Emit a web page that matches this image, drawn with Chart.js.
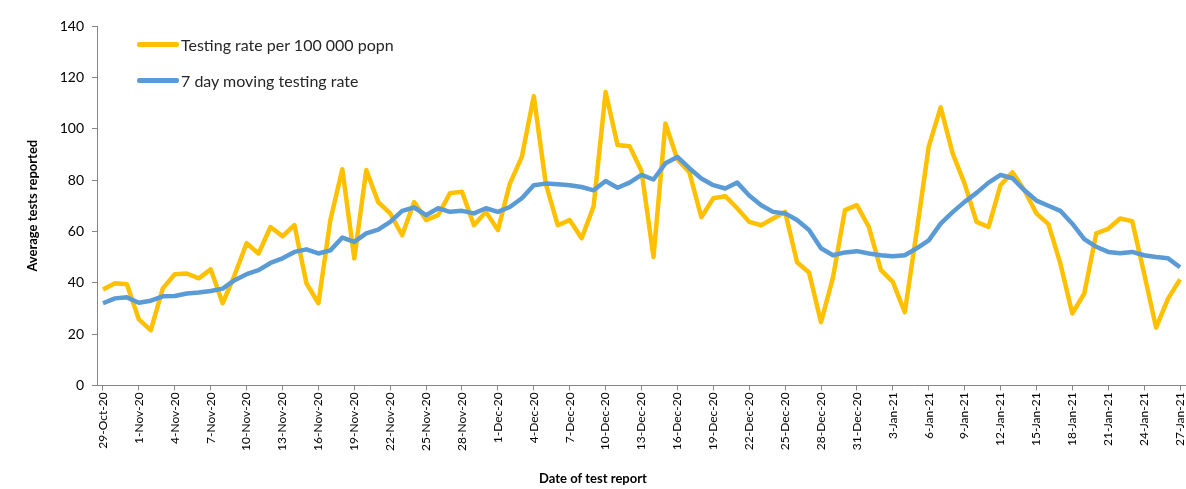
<!DOCTYPE html>
<html lang="en">
<head>
  <meta charset="UTF-8" />
  <title>Testing rate per 100 000 popn</title>
  <script src="https://cdn.jsdelivr.net/npm/chart.js"></script>
  <style>
    html, body { margin: 0; padding: 0; background: #fff; overflow: hidden; }
    #wrap { position: relative; width: 1186px; height: 489px; }
    #legend { position: absolute; left: 137px; top: 32px; font-family: Lato, sans-serif; font-size: 16px; color: #262626; }
    .legend-item { display: flex; align-items: center; height: 24px; margin-bottom: 12px; }
    .legend-line { width: 42px; height: 5px; border-radius: 2px; margin-right: 2px; }
  </style>
</head>
<body>
  <div id="wrap">
    <canvas id="testingChart"></canvas>
    <div id="legend"></div>
  </div>

  <script>
    // 29-Oct-20 .. 27-Jan-21, one value per day
    const startDate = new Date(2020, 9, 29);
    const dayCount = 91;
    const months = ['Jan', 'Feb', 'Mar', 'Apr', 'May', 'Jun', 'Jul', 'Aug', 'Sep', 'Oct', 'Nov', 'Dec'];
    const dateLabels = [];
    for (let i = 0; i < dayCount; i++) {
      const d = new Date(startDate.getFullYear(), startDate.getMonth(), startDate.getDate() + i);
      dateLabels.push(d.getDate() + '-' + months[d.getMonth()] + '-' + String(d.getFullYear()).slice(2));
    }

    const dailyRate = [
      37.4, 39.8, 39.4, 25.7, 21.5, 37.8, 43.3, 43.6, 41.7, 45.2, 32, 43, 55.4, 51.4, 61.7,
      58.1, 62.4, 39.8, 32, 64.4, 84.2, 49.5, 83.9, 71.4, 67, 58.5, 71.4, 64.4, 66.3, 74.9,
      75.4, 62.4, 67.6, 60.5, 78.6, 89, 112.7, 78.6, 62.4, 64.4, 57.3, 69.8, 114.3, 93.6, 93.2,
      83.5, 50, 102, 88, 83, 65.5, 72.9, 73.7, 69, 63.7, 62.4, 65, 67.6, 48, 44,
      24.6, 42, 68.3, 70.2, 61.7, 45, 40.3, 28.5, 60, 93, 108.3, 90.4, 78.6, 63.7, 61.7,
      78, 83, 76, 67, 62.8, 47.5, 28, 35.8, 59.2, 61, 65, 64, 43.6, 22.5, 33.8, 41.3
    ];

    const movingRate = [
      32, 33.9, 34.3, 32.2, 33, 34.7, 34.8, 35.8, 36.2, 36.8, 37.7, 41, 43.3, 44.9, 47.7,
      49.5, 52, 53, 51.4, 52.6, 57.6, 55.9, 59.2, 60.7, 63.7, 68, 69.3, 66.3, 69, 67.6,
      68, 67, 69, 67.6, 69.5, 72.9, 78, 78.6, 78.4, 78, 77.3, 76, 79.6, 77, 79,
      82, 80.2, 86.5, 89, 84.6, 80.6, 78, 76.7, 79, 74, 70.2, 67.6, 67, 64.4, 60.5,
      53.4, 50.7, 51.8, 52.3, 51.4, 50.7, 50.3, 50.7, 53.4, 56.5, 63, 67.5, 71.5, 75, 79,
      82, 80.7, 76, 72, 70, 68, 63, 57, 54, 52, 51.5, 52, 50.7, 50, 49.5, 46
    ];

    const yTicks = [0, 20, 40, 60, 80, 100, 120, 140];
    const labelEvery = 3;

    const axisGray = '#868686';
    const textColor = '#000000';

    const chart = new Chart(document.getElementById('testingChart'), {
      type: 'line',
      data: {
        labels: dateLabels,
        datasets: [
          {
            label: 'Testing rate per 100 000 popn',
            data: dailyRate,
            borderColor: '#FFC000',
            backgroundColor: '#FFC000',
            borderWidth: 4.5,
            pointRadius: 0,
            tension: 0,
            borderJoinStyle: 'round',
            order: 1
          },
          {
            label: '7 day moving testing rate',
            data: movingRate,
            borderColor: '#5B9BD5',
            backgroundColor: '#5B9BD5',
            borderWidth: 4.5,
            pointRadius: 0,
            tension: 0,
            borderJoinStyle: 'round',
            order: 0
          }
        ]
      },
      options: {
        responsive: true,
        maintainAspectRatio: false,
        animation: false,
        layout: { padding: { top: 26, right: 0, left: 0, bottom: 0 } },
        plugins: {
          legend: { display: false },
          tooltip: { enabled: false },
          title: {
            display: true,
            position: 'bottom',
            text: 'Date of test report',
            color: textColor,
            font: { family: 'Lato', size: 13, weight: 'bold' },
            padding: { top: 16, bottom: 2 }
          }
        },
        scales: {
          x: {
            offset: true,
            grid: { drawOnChartArea: false, tickLength: 5, color: axisGray },
            border: { color: axisGray },
            ticks: {
              autoSkip: false,
              minRotation: 90,
              maxRotation: 90,
              padding: 2,
              color: textColor,
              font: { family: 'Lato', size: 12 }
            },
            afterBuildTicks: scale => {
              scale.ticks = scale.ticks.filter(t => t.value % labelEvery === 0);
            },
            afterFit: scale => {
              scale.height = 70;
              scale.paddingLeft = 0;
              scale.paddingRight = 0;
            }
          },
          y: {
            min: yTicks[0],
            max: yTicks[yTicks.length - 1],
            grid: { drawOnChartArea: false, tickLength: 5, color: axisGray },
            border: { color: axisGray },
            ticks: {
              stepSize: yTicks[1] - yTicks[0],
              padding: 8,
              color: textColor,
              font: { family: 'Lato', size: 14 }
            },
            title: {
              display: true,
              text: 'Average tests reported',
              color: textColor,
              font: { family: 'Lato', size: 13, weight: 'bold' },
              padding: { top: 25, bottom: 0 }
            },
            afterFit: scale => { scale.width = 97; }
          }
        }
      }
    });

    // legend sits inside the plot, top left
    const legendEl = document.getElementById('legend');
    chart.data.datasets.forEach(ds => {
      const item = document.createElement('div');
      item.className = 'legend-item';
      item.innerHTML = '<span class="legend-line" style="background:' + ds.borderColor + '"></span><span>' + ds.label + '</span>';
      legendEl.appendChild(item);
    });
  </script>
</body>
</html>
